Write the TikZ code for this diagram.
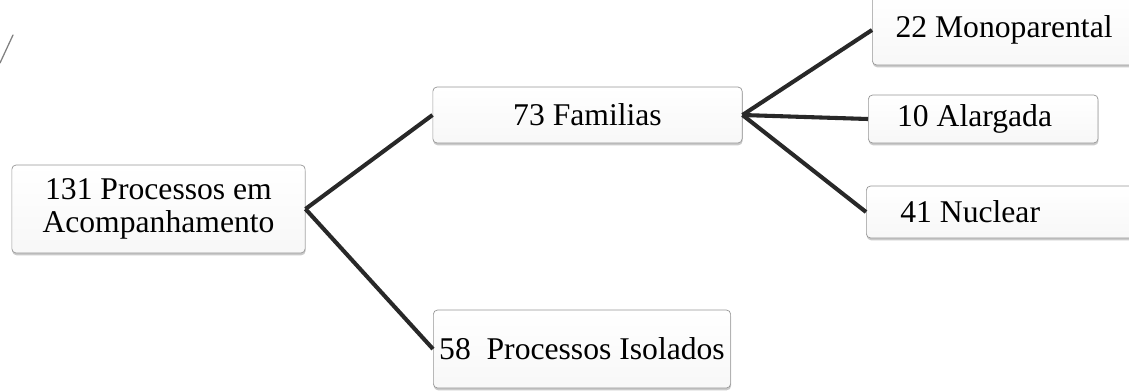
\documentclass[tikz,border=0pt]{standalone}
\usepackage{fontspec}
\setmainfont{Liberation Serif}
\usepackage{tikz}
\usetikzlibrary{positioning, shadows}
\definecolor{edgegray}{RGB}{150, 150, 150}
\definecolor{linkdark}{RGB}{40, 40, 40}

\tikzset{
    box/.style={draw=edgegray, line width=0.5pt, rounded corners=3pt,
        top color=white, bottom color=gray!6,
        drop shadow={shadow xshift=0.3pt, shadow yshift=-1.6pt, fill=gray!70, opacity=0.6},
        font=\fontsize{22.5}{23.5}\selectfont, inner ysep=0pt},
    link/.style={draw=linkdark, line width=2.9pt}
}

\begin{document}
\begin{tikzpicture}[x=0.025cm, y=-0.025cm]
    \useasboundingbox (0,0) rectangle (1129,390);
    \clip (0,0) rectangle (1129,390);

    % Boxes
    \node[box, align=center, minimum width=7.33cm, minimum height=2.2cm] (root) at (158.5,209) {131 Processos em\\Acompanhamento};
    \node[box, minimum width=7.73cm, minimum height=1.4cm] (familias) at (587.5,115) {73 Familias};
    \node[box, anchor=west, inner xsep=0.05cm, minimum width=7.43cm, minimum height=1.95cm] (isolados) at (433,349) {58\ \ Processos Isolados};
    \node[box, anchor=west, align=flush left, inner xsep=0.58cm, text width=5.6cm, minimum height=1.75cm] (mono) at (872,30) {22 Monoparental};
    \node[box, anchor=west, align=flush left, inner xsep=0.72cm, text width=4.3cm, minimum height=1.2cm] (alargada) at (868,119) {10 Alargada};
    \node[box, anchor=west, align=flush left, inner xsep=0.85cm, text width=5.2cm, minimum height=1.3cm] (nuclear) at (866,212) {41 Nuclear};

    % Links
    \draw[link] (root.east) -- (familias.west);
    \draw[link] (root.east) -- (isolados.west);
    \draw[link] (familias.east) -- (mono.west);
    \draw[link] (familias.east) -- (alargada.west);
    \draw[link] (familias.east) -- (nuclear.west);

    % Pen mark
    \draw[gray, line width=0.9pt, line cap=round] (0,63) -- (13,35);
\end{tikzpicture}
\end{document}
